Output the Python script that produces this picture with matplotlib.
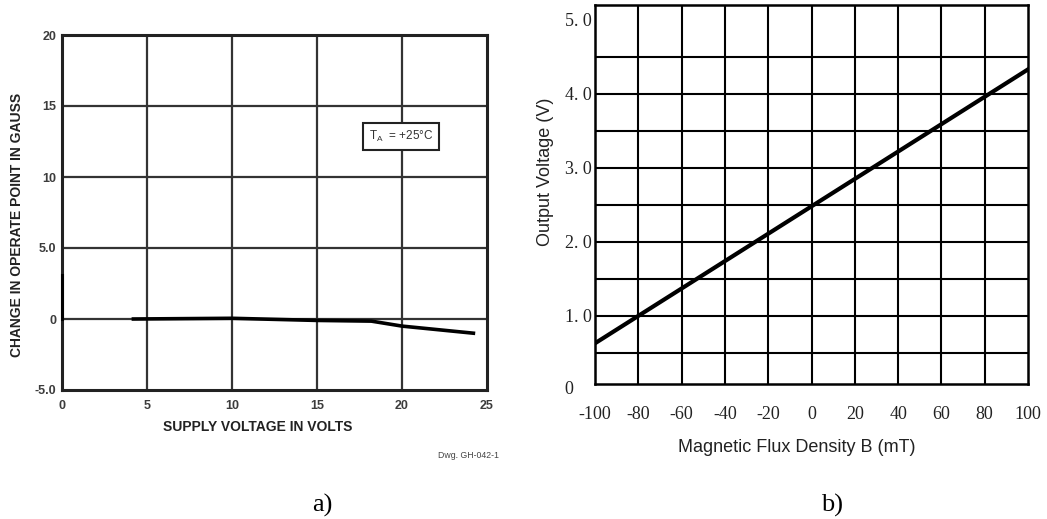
import matplotlib.pyplot as plt

# panel a) change in operate point vs supply voltage
supply_v = [4.2, 10.0, 15.0, 18.2, 20.0, 24.2]
delta_gauss = [0.0, 0.05, -0.1, -0.15, -0.5, -1.0]
a_xticks = [0, 5, 10, 15, 20, 25]
a_yticks = [-5, 0, 5, 10, 15, 20]
a_yticklabels = ["-5.0", "0", "5.0", "10", "15", "20"]
edge_mark_y = [0.0, 3.1]

# panel b) output voltage vs flux density
flux_mT = [-100, 0, 100]
out_v = [0.63, 2.48, 4.33]
b_xticks = [-100, -80, -60, -40, -20, 0, 20, 40, 60, 80, 100]
b_yticks = [1, 2, 3, 4, 5]
b_yticklabels = ["1. 0", "2. 0", "3. 0", "4. 0", "5. 0"]
b_hgrid = [0.5, 1.0, 1.5, 2.0, 2.5, 3.0, 3.5, 4.0, 4.5]
b_vgrid = [-80, -60, -40, -20, 0, 20, 40, 60, 80]

W, H = 1047, 519
fig = plt.figure(figsize=(W / 100, H / 100), dpi=100)


def px_axes(left, top, right, bottom):
    return fig.add_axes([left / W, 1 - bottom / H, (right - left) / W, (bottom - top) / H])


sans = "Liberation Sans"
serif = "Liberation Serif"

# ---------------- panel a ----------------
ax = px_axes(62, 35, 487, 390)
ax.set_xlim(0, 25)
ax.set_ylim(-5, 20)
for x in a_xticks[1:-1]:
    ax.axvline(x, color="#333333", lw=1.6, zorder=1)
for y in a_yticks[1:-1]:
    ax.axhline(y, color="#333333", lw=1.6, zorder=1)
ax.plot(supply_v, delta_gauss, color="black", lw=2.6, zorder=3)
ax.plot([0, 0], edge_mark_y, color="black", lw=2.2, zorder=3, clip_on=False)
for s in ax.spines.values():
    s.set_linewidth(2.2)
    s.set_color("#222222")
ax.set_xticks(a_xticks)
ax.set_yticks(a_yticks)
ax.set_yticklabels(a_yticklabels)
ax.tick_params(length=0, labelsize=9, labelcolor="#3c3c3c")
ax.tick_params(axis="x", pad=7)
ax.tick_params(axis="y", pad=4)
for lab in ax.get_xticklabels() + ax.get_yticklabels():
    lab.set_family(sans)
    lab.set_fontweight("bold")
ax.set_xlabel("SUPPLY VOLTAGE IN VOLTS", family=sans, fontweight="bold",
              fontsize=10, color="#222222", va="center")
ax.xaxis.set_label_coords((258 - 62) / 425, (390 - 427) / 355)
ax.set_ylabel("CHANGE IN OPERATE POINT IN GAUSS", family=sans, fontweight="bold",
              fontsize=10, color="#222222", va="center")
ax.yaxis.set_label_coords((17 - 62) / 425, (390 - 225) / 355)
ax.text(19.94, 12.85, r"T$_\mathregular{A}$  = +25°C", family=sans, fontsize=8.5,
        color="#333333", ha="center", va="center", zorder=4,
        bbox=dict(boxstyle="square,pad=0.5", fc="white", ec="#222222", lw=1.5))
fig.text(468 / W, 1 - 455 / H, "Dwg. GH-042-1", family=sans, fontsize=6.3,
         color="#444444", ha="center", va="center")
fig.text(322 / W, 1 - 505 / H, "a)", family=serif, fontsize=19, ha="center", va="center")

# ---------------- panel b ----------------
bx = px_axes(595, 5, 1028, 384)
bx.set_xlim(-100, 100)
bx.set_ylim(0.08, 5.2)
for x in b_vgrid:
    bx.axvline(x, color="black", lw=1.5, zorder=1)
for y in b_hgrid:
    bx.axhline(y, color="black", lw=1.5, zorder=1)
bx.plot(flux_mT, out_v, color="black", lw=3, zorder=3)
for s in bx.spines.values():
    s.set_linewidth(1.8)
bx.set_xticks(b_xticks)
bx.set_xticklabels([str(v) for v in b_xticks])
bx.set_yticks(b_yticks)
bx.set_yticklabels(b_yticklabels)
bx.tick_params(length=0, labelsize=13, labelcolor="#222222")
bx.tick_params(axis="x", pad=16)
bx.tick_params(axis="y", pad=2)
for lab in bx.get_xticklabels() + bx.get_yticklabels():
    lab.set_family(serif)
fig.text(569 / W, 1 - 389 / H, "0", family=serif, fontsize=13, color="#222222",
         ha="center", va="center")
bx.set_xlabel("Magnetic Flux Density B (mT)", family=sans, fontsize=13,
              color="#222222", va="center")
bx.xaxis.set_label_coords((797 - 595) / 433, (384 - 448) / 379)
bx.set_ylabel("Output Voltage (V)", family=sans, fontsize=13, color="#222222",
              va="center")
bx.yaxis.set_label_coords((545 - 595) / 433, (384 - 172) / 379)
fig.text(832 / W, 1 - 505 / H, "b)", family=serif, fontsize=19, ha="center", va="center")

fig.savefig("out.png", dpi=100, facecolor="white")
